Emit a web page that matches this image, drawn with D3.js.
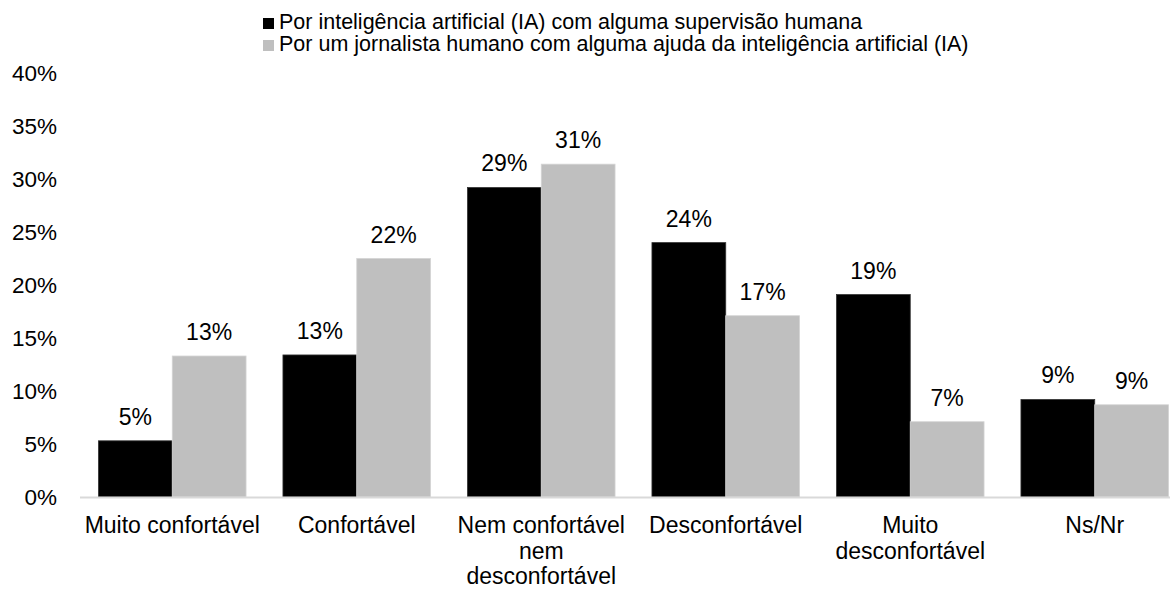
<!DOCTYPE html>
<html>
<head>
<meta charset="utf-8">
<script src="https://cdn.jsdelivr.net/npm/d3@7"></script>
<style>
  body { margin: 0; background: #fff; }
  text { font-family: "Liberation Sans", Arial, sans-serif; fill: #000; }
</style>
</head>
<body>
<div id="chart"></div>
<script>
// Categories (line breaks follow the original wrapping)
const categories = [
  "Muito confortável",
  "Confortável",
  "Nem confortável\nnem\ndesconfortável",
  "Desconfortável",
  "Muito\ndesconfortável",
  "Ns/Nr"
];

const seriesNames = [
  "Por inteligência artificial (IA) com alguma supervisão humana",
  "Por um jornalista humano com alguma ajuda da inteligência artificial (IA)"
];

// Values in percent
const iaValues = [5.3, 13.4, 29.2, 24.0, 19.1, 9.2];
const jornalistaValues = [13.3, 22.5, 31.4, 17.1, 7.1, 8.7];

// Labels shown above the bars
const iaLabels = ["5%", "13%", "29%", "24%", "19%", "9%"];
const jornalistaLabels = ["13%", "22%", "31%", "17%", "7%", "9%"];

const yTicks = [0, 5, 10, 15, 20, 25, 30, 35, 40];
const colors = ["#000000", "#bfbfbf"];

const width = 1170, height = 590;
const svg = d3.select("#chart").append("svg")
  .attr("width", width)
  .attr("height", height);

// Scales
const x0 = d3.scaleBand()
  .domain(categories)
  .range([80, 1187])
  .paddingInner(0.2)
  .paddingOuter(0.1);

const x1 = d3.scaleBand()
  .domain([0, 1])
  .range([0, x0.bandwidth()]);

const y = d3.scaleLinear()
  .domain([0, 40])
  .range([497, 73]);

// Y axis labels (no line, no ticks)
const yAxis = svg.append("g")
  .attr("transform", "translate(57,0)")
  .call(d3.axisLeft(y).tickValues(yTicks).tickFormat(d => d + "%").tickSize(0).tickPadding(0));
yAxis.select(".domain").remove();
yAxis.selectAll("text")
  .style("font-size", "22.5px")
  .attr("fill", "#000")
  .attr("font-family", null);

// Bars
const rows = categories.map((c, i) => ({
  cat: c,
  vals: [iaValues[i], jornalistaValues[i]],
  labels: [iaLabels[i], jornalistaLabels[i]]
}));

const groups = svg.selectAll(".grp")
  .data(rows)
  .enter().append("g")
  .attr("class", "grp")
  .attr("transform", d => `translate(${x0(d.cat)},0)`);

groups.selectAll("rect")
  .data(d => d.vals.map((v, k) => ({ v, k })))
  .enter().append("rect")
  .attr("x", d => x1(d.k))
  .attr("y", d => y(d.v))
  .attr("width", x1.bandwidth())
  .attr("height", d => y(0) - y(d.v))
  .attr("fill", d => colors[d.k])
  .attr("stroke", d => d.k === 0 ? "#333" : "#d4d4d4")
  .attr("stroke-width", 0.8);

groups.selectAll(".lbl")
  .data(d => d.vals.map((v, k) => ({ v, k, t: d.labels[k] })))
  .enter().append("text")
  .attr("class", "lbl")
  .attr("x", d => x1(d.k) + x1.bandwidth() / 2)
  .attr("y", d => y(d.v) - 16)
  .attr("text-anchor", "middle")
  .style("font-size", "23px")
  .text(d => d.t);

// Baseline
svg.append("line")
  .attr("x1", 80).attr("x2", width)
  .attr("y1", y(0) + 0.5).attr("y2", y(0) + 0.5)
  .attr("stroke", "#d9d9d9")
  .attr("stroke-width", 2);

// Category labels
const xLab = svg.append("g");
categories.forEach(c => {
  const t = xLab.append("text")
    .attr("text-anchor", "middle")
    .style("font-size", "23px");
  c.split("\n").forEach((line, i) => {
    t.append("tspan")
      .attr("x", x0(c) + x0.bandwidth() / 2)
      .attr("y", 533 + i * 25.5)
      .text(line);
  });
});

// Legend
const legend = svg.append("g").attr("transform", "translate(263,18)");
seriesNames.forEach((name, i) => {
  legend.append("rect")
    .attr("x", 0).attr("y", i * 22)
    .attr("width", 11).attr("height", 11)
    .attr("fill", colors[i]);
  legend.append("text")
    .attr("x", 16).attr("y", i * 22 + 11)
    .style("font-size", "21.5px")
    .text(name);
});
</script>
</body>
</html>
